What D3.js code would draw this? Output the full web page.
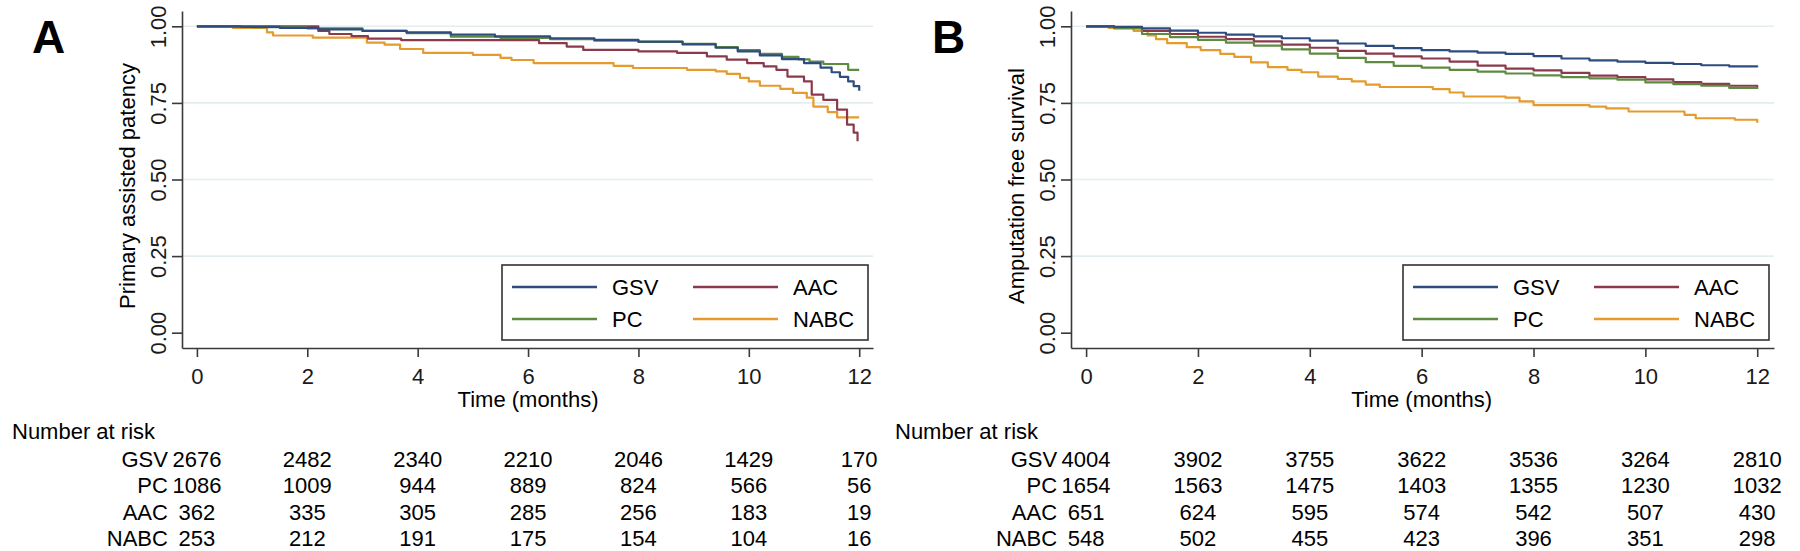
<!DOCTYPE html>
<html>
<head>
<meta charset="utf-8">
<script src="https://cdn.jsdelivr.net/npm/d3@7"></script>
<style>
  body { margin: 0; background: #fff; }
  svg { font-family: "Liberation Sans", Arial, sans-serif; }
</style>
</head>
<body>
<script>
// Kaplan-Meier curves: [time (months), survival]
var groups = ["GSV", "PC", "AAC", "NABC"];
var colors = { GSV: "#2f4c7e", PC: "#5e8b42", AAC: "#8b3a4c", NABC: "#e59b2e" };

var timeTicks = [0, 2, 4, 6, 8, 10, 12];
var survTicks = [0, 0.25, 0.5, 0.75, 1];

// Panel A - primary assisted patency
var patencyGSV = [[0,1],[0.8,0.998],[1.5,0.995],[2.2,0.99],[3,0.985],[3.8,0.98],[4.6,0.973],[5.4,0.967],[6.4,0.961],
  [7.2,0.956],[8,0.95],[8.8,0.941],[9.4,0.93],[9.8,0.918],[10.2,0.905],[10.6,0.893],[11,0.88],[11.3,0.865],
  [11.5,0.85],[11.65,0.835],[11.8,0.82],[11.9,0.805],[12,0.79]];
var patencyPC = [[0,1],[1,0.997],[2,0.993],[3,0.985],[3.8,0.978],[4.6,0.966],[5.5,0.962],[6.4,0.958],[7.2,0.953],
  [8,0.949],[8.8,0.943],[9.4,0.932],[9.8,0.922],[10.2,0.91],[10.6,0.9],[10.9,0.892],[11.1,0.885],[11.35,0.877],
  [11.8,0.858],[12,0.858]];
var patencyAAC = [[0,1],[2.2,0.985],[2.4,0.975],[2.8,0.968],[3.1,0.96],[3.7,0.955],[6.2,0.945],[6.7,0.934],[7,0.923],
  [8,0.918],[8.7,0.913],[9.24,0.902],[9.6,0.891],[9.97,0.88],[10.27,0.869],[10.5,0.858],[10.7,0.836],[11,0.82],
  [11.14,0.777],[11.35,0.76],[11.6,0.728],[11.78,0.679],[11.9,0.653],[11.97,0.625]];
var patencyNABC = [[0,1],[0.65,0.995],[1.27,0.98],[1.38,0.97],[2.1,0.963],[3.08,0.947],[3.4,0.94],[3.68,0.926],
  [4.1,0.913],[5,0.907],[5.5,0.897],[5.7,0.89],[6.1,0.88],[7.55,0.871],[7.9,0.864],[8.88,0.858],[9.4,0.853],
  [9.6,0.845],[9.84,0.832],[10,0.82],[10.2,0.806],[10.57,0.796],[10.8,0.783],[11.05,0.767],[11.17,0.738],
  [11.43,0.72],[11.6,0.703],[12,0.703]];

// Panel B - amputation free survival
var afsGSV = [[0,1],[0.5,0.998],[1,0.993],[1.5,0.986],[2,0.979],[2.5,0.973],[3,0.967],[3.5,0.961],[4,0.953],
  [4.5,0.944],[5,0.936],[5.5,0.929],[6,0.922],[6.5,0.918],[7,0.914],[7.5,0.91],[8,0.903],[8.5,0.895],[9,0.889],
  [9.5,0.885],[10,0.881],[10.5,0.877],[11,0.873],[11.5,0.869],[12,0.866]];
var afsPC = [[0,1],[0.5,0.993],[1,0.975],[1.5,0.965],[2,0.956],[2.5,0.947],[3,0.937],[3.5,0.925],[4,0.911],
  [4.5,0.897],[5,0.883],[5.5,0.871],[6,0.865],[6.5,0.858],[7,0.852],[7.5,0.846],[8,0.84],[8.5,0.834],[9,0.83],
  [9.5,0.826],[10,0.817],[10.5,0.811],[11,0.806],[11.5,0.799],[12,0.795]];
var afsAAC = [[0,1],[0.5,0.997],[1,0.985],[1.5,0.975],[2,0.966],[2.5,0.958],[3,0.951],[3.5,0.94],[4,0.93],
  [4.5,0.92],[5,0.911],[5.5,0.902],[6,0.895],[6.5,0.885],[7,0.872],[7.5,0.862],[8,0.856],[8.5,0.848],[9,0.839],
  [9.5,0.834],[10,0.827],[10.5,0.818],[11,0.812],[11.5,0.806],[12,0.8]];
var afsNABC = [[0,1],[0.4,0.995],[0.85,0.985],[1.1,0.97],[1.25,0.958],[1.45,0.945],[1.8,0.932],[2.05,0.922],
  [2.4,0.91],[2.65,0.9],[2.95,0.882],[3.25,0.867],[3.6,0.858],[3.85,0.85],[4.15,0.836],[4.5,0.828],[4.75,0.82],
  [5,0.81],[5.25,0.802],[6.2,0.795],[6.5,0.784],[6.75,0.771],[7.5,0.767],[7.75,0.755],[8,0.743],[9,0.738],
  [9.3,0.732],[9.7,0.722],[10.7,0.711],[10.9,0.7],[11.6,0.695],[12,0.685]];

// Number at risk at 0,2,...,12 months
var riskA = {
  GSV: [2676, 2482, 2340, 2210, 2046, 1429, 170],
  PC: [1086, 1009, 944, 889, 824, 566, 56],
  AAC: [362, 335, 305, 285, 256, 183, 19],
  NABC: [253, 212, 191, 175, 154, 104, 16]
};
var riskB = {
  GSV: [4004, 3902, 3755, 3622, 3536, 3264, 2810],
  PC: [1654, 1563, 1475, 1403, 1355, 1230, 1032],
  AAC: [651, 624, 595, 574, 542, 507, 430],
  NABC: [548, 502, 455, 423, 396, 351, 298]
};

var svg = d3.select("body").append("svg")
  .attr("width", 1800)
  .attr("height", 551);

var panels = [
  { letter: "A", lx: 32, title: "Primary assisted patency", left: 182, right: 873, xmin: -0.27, xmax: 12.25,
    curves: { GSV: patencyGSV, PC: patencyPC, AAC: patencyAAC, NABC: patencyNABC },
    risk: riskA, riskX: 12, legendX: 502 },
  { letter: "B", lx: 932, title: "Amputation free survival", left: 1071, right: 1774, xmin: -0.27, xmax: 12.3,
    curves: { GSV: afsGSV, PC: afsPC, AAC: afsAAC, NABC: afsNABC },
    risk: riskB, riskX: 895, legendX: 1403 }
];

var plotTop = 11, plotBottom = 348;
var axisColor = "#3a3a3a";

panels.forEach(function (p) {
  var x = d3.scaleLinear().domain([p.xmin, p.xmax]).range([p.left, p.right]);
  var y = d3.scaleLinear().domain([-0.05, 1.05]).range([plotBottom, plotTop]);

  var g = svg.append("g");

  // gridlines
  g.selectAll(".grid")
    .data(survTicks.filter(d => d > 0))
    .enter().append("line")
    .attr("x1", p.left).attr("x2", p.right)
    .attr("y1", d => y(d)).attr("y2", d => y(d))
    .attr("stroke", "#e4edf0")
    .attr("stroke-width", 1.6);

  // y axis
  var yAxis = g.append("g")
    .attr("transform", `translate(${p.left},0)`)
    .call(d3.axisLeft(y).tickValues(survTicks).tickFormat(d3.format(".2f")).tickSize(10).tickSizeOuter(0));
  yAxis.selectAll("text")
    .attr("transform", "rotate(-90)")
    .attr("x", 0).attr("y", -16).attr("dy", 0)
    .attr("text-anchor", "middle");

  // x axis
  var xAxis = g.append("g")
    .attr("transform", `translate(0,${plotBottom})`)
    .call(d3.axisBottom(x).tickValues(timeTicks).tickSize(9).tickSizeOuter(0));
  xAxis.selectAll("text").attr("y", 36).attr("dy", 0);

  [yAxis, xAxis].forEach(function (a) {
    a.select(".domain").attr("stroke", axisColor).attr("stroke-width", 1.6);
    a.selectAll(".tick line").attr("stroke", axisColor).attr("stroke-width", 1.6);
    a.selectAll("text").attr("font-size", 22).attr("fill", "#1a1a1a")
      .attr("font-family", "'Liberation Sans', Arial, sans-serif");
  });

  // axis titles
  g.append("text")
    .attr("transform", `translate(${p.left - 47},${186}) rotate(-90)`)
    .attr("text-anchor", "middle")
    .attr("font-size", 22)
    .text(p.title);

  g.append("text")
    .attr("x", x(6)).attr("y", 407)
    .attr("text-anchor", "middle")
    .attr("font-size", 22)
    .text("Time (months)");

  // panel letter
  g.append("text")
    .attr("x", p.lx).attr("y", 53)
    .attr("font-size", 46)
    .attr("font-weight", "bold")
    .text(p.letter);

  // survival curves
  var line = d3.line()
    .x(d => x(d[0]))
    .y(d => y(d[1]))
    .curve(d3.curveStepAfter);

  ["NABC", "AAC", "PC", "GSV"].forEach(function (k) {
    g.append("path")
      .datum(p.curves[k])
      .attr("d", line)
      .attr("fill", "none")
      .attr("stroke", colors[k])
      .attr("stroke-width", 2.2)
      .attr("stroke-linejoin", "round");
  });

  // legend
  var lg = g.append("g").attr("transform", `translate(${p.legendX},265)`);
  lg.append("rect")
    .attr("width", 366).attr("height", 75)
    .attr("fill", "#fff")
    .attr("stroke", "#333")
    .attr("stroke-width", 1.6);
  var legendPos = [[0, 0], [0, 1], [1, 0], [1, 1]];
  groups.forEach(function (k, i) {
    var cx = 10 + legendPos[i][0] * 181;
    var cy = 22 + legendPos[i][1] * 32;
    lg.append("line")
      .attr("x1", cx).attr("x2", cx + 85)
      .attr("y1", cy).attr("y2", cy)
      .attr("stroke", colors[k])
      .attr("stroke-width", 2.5);
    lg.append("text")
      .attr("x", cx + 100).attr("y", cy + 8)
      .attr("font-size", 22)
      .text(k);
  });

  // number at risk table
  g.append("text")
    .attr("x", p.riskX).attr("y", 439)
    .attr("font-size", 22)
    .text("Number at risk");

  groups.forEach(function (k, i) {
    var ry = 467 + i * 26.3;
    g.append("text")
      .attr("x", x(0) - 29).attr("y", ry)
      .attr("text-anchor", "end")
      .attr("font-size", 22)
      .text(k);
    g.selectAll(null)
      .data(p.risk[k])
      .enter().append("text")
      .attr("x", (d, j) => x(timeTicks[j]))
      .attr("y", ry)
      .attr("text-anchor", "middle")
      .attr("font-size", 22)
      .text(d => d);
  });
});
</script>
</body>
</html>
